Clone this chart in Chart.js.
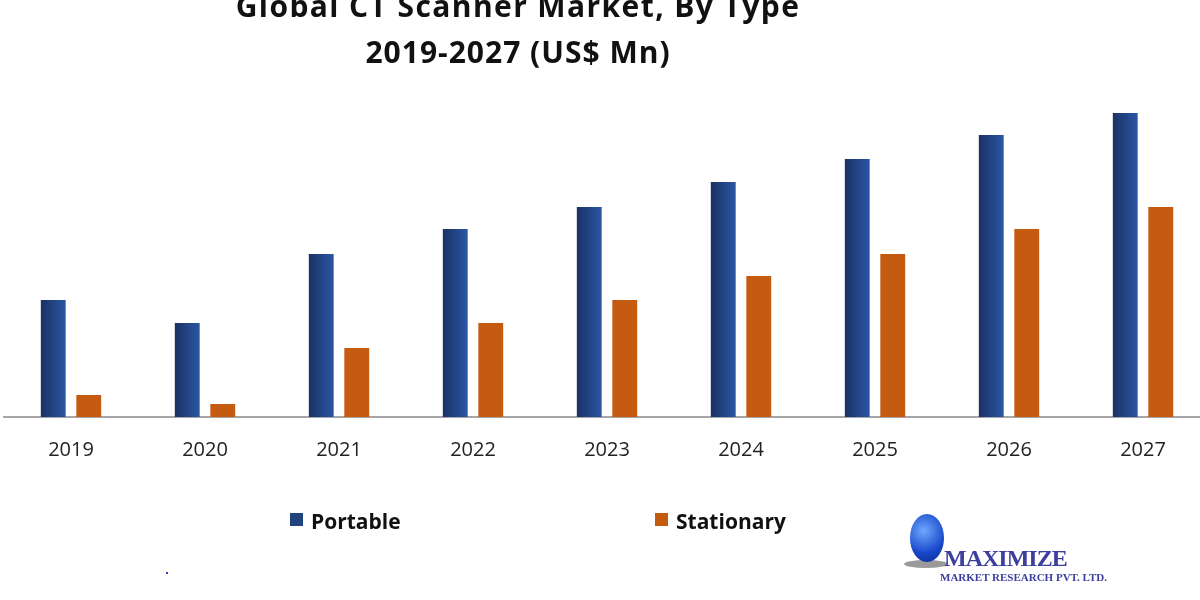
<!DOCTYPE html>
<html>
<head>
<meta charset="utf-8">
<script src="https://cdn.jsdelivr.net/npm/chart.js@4/dist/chart.umd.min.js"></script>
<style>
  html, body { margin: 0; padding: 0; background: #fff; overflow: hidden; }
  #wrap { position: relative; width: 1200px; height: 600px; overflow: hidden; }
  #plot { position: absolute; left: 0; top: 0; }
  .title { position: absolute; left: 218px; width: 600px; text-align: center; font-family: "Open Sans", sans-serif;
           font-weight: 700; font-size: 30px; letter-spacing: 1px; color: #111; white-space: nowrap; }
  .leg { position: absolute; top: 507px; font-family: "Open Sans", sans-serif; font-weight: 700; font-size: 21px; color: #111; }
  .leg i { position: absolute; left: -21px; top: 6px; width: 13px; height: 13px; }
  .logo { position: absolute; font-family: "Liberation Serif", "DejaVu Serif", serif; font-weight: 700; color: #3c3f9e; white-space: nowrap; }
</style>
</head>
<body>
<div id="wrap">
  <canvas id="plot" width="1210" height="600"></canvas>
  <div class="title" style="top:-15px;letter-spacing:1.4px;">Global CT Scanner Market, By Type</div>
  <div class="title" style="top:31px;">2019-2027 (US$ Mn)</div>
  <div class="leg" style="left:311px;"><i style="background:#21447f;"></i>Portable</div>
  <div class="leg" style="left:676px;"><i style="background:#c55a11;"></i>Stationary</div>
  <div style="position:absolute;left:166px;top:572px;width:2px;height:2px;background:#2b3fd0;"></div>
  <div style="position:absolute;left:904px;top:560px;width:44px;height:8px;border-radius:50%;background:#9a9a9a;"></div>
  <div style="position:absolute;left:910px;top:514px;width:34px;height:48px;border-radius:50%;background:radial-gradient(circle at 40% 35%, #6fa8ff, #1747c9 60%, #0b2a8a);"></div>
  <div class="logo" style="left:944px;top:545px;font-size:24px;letter-spacing:-1px;">MAXIMIZE</div>
  <div class="logo" style="left:940px;top:571px;font-size:11px;">MARKET RESEARCH PVT. LTD.</div>
</div>
<script>
const years = ['2019', '2020', '2021', '2022', '2023', '2024', '2025', '2026', '2027'];
const portable = [117, 94, 163, 188, 210, 235, 258, 282, 304];
const stationary = [22, 13, 69, 94, 117, 141, 163, 188, 210];

const catPct = 0.53;
const barPct = 0.70;

// dark-to-light blue gradient across each portable bar
function blueFill(ctx) {
    const chart = ctx.chart;
    const x = chart.scales.x;
    if (!x || !x.width || ctx.dataIndex === undefined) return '#23468a';
    const slot = x.width / years.length * catPct / 2;
    const bw = slot * barPct;
    const c = x.getPixelForValue(ctx.dataIndex) - slot / 2;
    const g = chart.ctx.createLinearGradient(c - bw / 2, 0, c + bw / 2, 0);
    g.addColorStop(0, '#1b3264');
    g.addColorStop(1, '#2a56a4');
    return g;
}

new Chart(document.getElementById('plot'), {
    type: 'bar',
    data: {
        labels: years,
        datasets: [
            {
                label: 'Portable',
                data: portable,
                backgroundColor: blueFill,
                borderWidth: 0,
                categoryPercentage: catPct,
                barPercentage: barPct,
            },
            {
                label: 'Stationary',
                data: stationary,
                backgroundColor: '#c55a11',
                borderWidth: 0,
                categoryPercentage: catPct,
                barPercentage: barPct,
            },
        ],
    },
    options: {
        responsive: false,
        animation: false,
        layout: { padding: { top: 95, left: 4, right: 0, bottom: 117 } },
        plugins: {
            legend: { display: false },
            title: { display: false },
            tooltip: { enabled: false },
        },
        scales: {
            x: {
                grid: { display: false, drawTicks: false },
                border: { display: true, color: '#a6a6a6', width: 2 },
                ticks: {
                    color: '#222',
                    padding: 21,
                    font: { family: 'Open Sans', size: 20 },
                },
            },
            y: {
                display: false,
                min: 0,
                max: 322,
            },
        },
    },
});
</script>
</body>
</html>
